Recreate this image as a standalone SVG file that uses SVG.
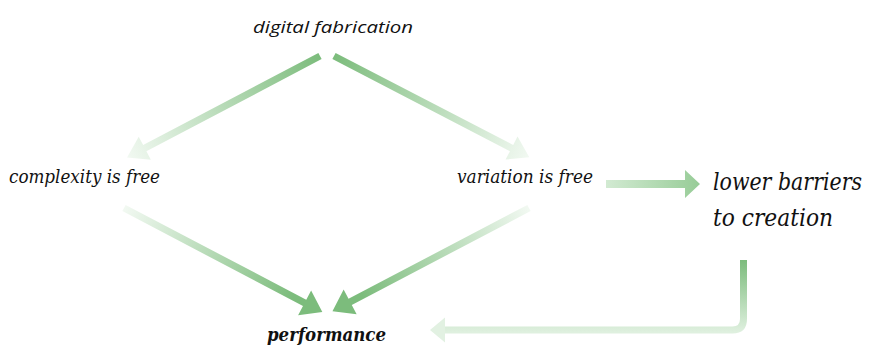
<svg xmlns="http://www.w3.org/2000/svg" width="874" height="347" viewBox="0 0 874 347">
<style>
.t{font-family:'DejaVu Serif',serif;font-style:italic;font-stretch:condensed;fill:#111}
</style>
<defs>
<linearGradient id="fadeOut" x1="0" y1="0" x2="1" y2="0">
<stop offset="0" stop-color="#7cbc7c"/>
<stop offset="1" stop-color="#f2f9f2"/>
</linearGradient>
<linearGradient id="fadeIn" x1="0" y1="0" x2="1" y2="0">
<stop offset="0" stop-color="#f2f9f2"/>
<stop offset="0.85" stop-color="#7cbc7c"/>
<stop offset="1" stop-color="#7cbc7c"/>
</linearGradient>
<linearGradient id="side" x1="0" y1="0" x2="1" y2="0">
<stop offset="0" stop-color="#d2ead2"/>
<stop offset="1" stop-color="#97cc97"/>
</linearGradient>
<linearGradient id="back" gradientUnits="userSpaceOnUse" x1="0" y1="260" x2="0" y2="332">
<stop offset="0" stop-color="#7cbc7c"/>
<stop offset="1" stop-color="#dff0df"/>
</linearGradient>
</defs>
<g id="connectors">
<polygon transform="translate(320,56) rotate(152.25)" fill="url(#fadeOut)" points="0,-3.5 198,-3.5 198,-13 218,0 198,13 198,3.5 0,3.5"/>
<polygon transform="translate(334,56) rotate(27.4)" fill="url(#fadeOut)" points="0,-3.5 200,-3.5 200,-13 220,0 200,13 200,3.5 0,3.5"/>
<polygon transform="translate(124,208) rotate(27.7)" fill="url(#fadeIn)" points="0,-3.5 204,-3.5 204,-14 224,0 204,14 204,3.5 0,3.5"/>
<polygon transform="translate(529,208) rotate(152.3)" fill="url(#fadeIn)" points="0,-3.5 202,-3.5 202,-14 222,0 202,14 202,3.5 0,3.5"/>
<polygon transform="translate(606,184)" fill="url(#side)" points="0,-4 79,-4 79,-14 94,0 79,14 79,4 0,4"/>
<path d="M743.5,260 V319 Q743.5,330 732.5,330 H444" fill="none" stroke="url(#back)" stroke-width="7"/>
<polygon points="445,317.5 430,330 445,342.5" fill="#e2f1e2"/>
</g>
<g id="digital-fabrication"><text font-family="'Open Sans', sans-serif" font-style="italic" fill="#111" x="333" y="33" font-size="17" text-anchor="middle" textLength="160" lengthAdjust="spacingAndGlyphs">digital fabrication</text></g>
<g id="complexity-is-free"><text class="t" x="9" y="183" font-size="18" textLength="151" lengthAdjust="spacingAndGlyphs">complexity is free</text></g>
<g id="variation-is-free"><text class="t" x="457" y="183" font-size="18" textLength="136" lengthAdjust="spacingAndGlyphs">variation is free</text></g>
<g id="lower-barriers"><text class="t" x="713" y="190" font-size="24" textLength="149" lengthAdjust="spacingAndGlyphs">lower barriers</text><text class="t" x="713" y="226" font-size="24" textLength="120" lengthAdjust="spacingAndGlyphs">to creation</text></g>
<g id="performance"><text class="t" x="267" y="341" font-size="18" font-weight="bold" textLength="119" lengthAdjust="spacingAndGlyphs">performance</text></g>
</svg>
